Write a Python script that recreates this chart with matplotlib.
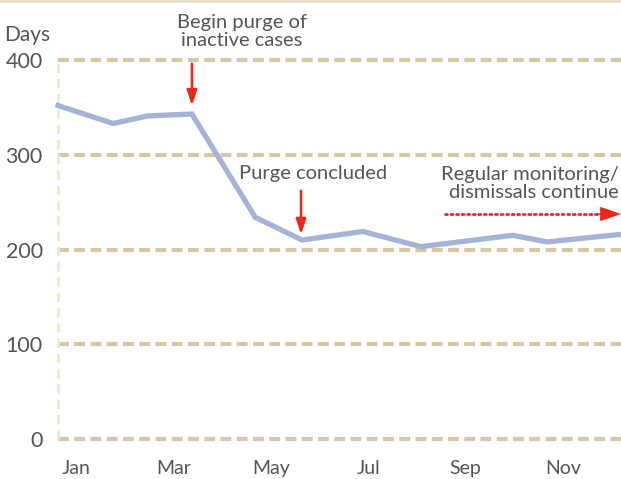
import matplotlib
matplotlib.use("Agg")
import matplotlib.pyplot as plt
from matplotlib.lines import Line2D

# Data (x in month units, Jan = 0)
month_labels = ["Jan", "Mar", "May", "Jul", "Sep", "Nov"]
month_ticks = [0, 2, 4, 6, 8, 10]
x_pos = [-0.37, 0.76, 1.48, 2.38, 3.68, 4.64, 5.89, 7.08, 8.97, 9.67, 11.19]
days = [352, 333, 341, 343, 234, 210, 219, 203, 215, 208, 216]
y_ticks = [0, 100, 200, 300, 400]

plt.rcParams['font.family'] = ['Lato', 'DejaVu Sans']

fig = plt.figure(figsize=(6.21, 4.79), dpi=100)
ax = fig.add_axes([58/621, 40/479, 563/621, 379/479])
ax.set_xlim(-0.37, 11.19)
ax.set_ylim(0, 400)

grid_col = "#d6c7a6"
for yv in y_ticks:
    ax.axhline(yv, color=grid_col, lw=3, dashes=(2.6, 1.3), zorder=1, clip_on=False)
ax.axvline(-0.37, color="#efe6d4", lw=2.2, dashes=(3, 2), zorder=1, clip_on=False)

ax.plot(x_pos, days, color="#a6b3d7", lw=3.8, solid_joinstyle='miter', zorder=3, clip_on=False)

for s in ax.spines.values():
    s.set_visible(False)
ax.set_yticks(y_ticks)
ax.set_yticklabels([str(v) for v in y_ticks], fontsize=15.5, color="#555555")
ax.set_xticks(month_ticks)
ax.set_xticklabels(month_labels, fontsize=14, color="#555555")
ax.tick_params(axis='both', length=0)
ax.tick_params(axis='y', pad=11)
ax.tick_params(axis='x', pad=15)

ax.text(-1.01, 416, "Days", fontsize=15, color="#555555", ha='center', va='bottom')

red = "#e8271e"
txtc = "#555555"
# Begin purge
ax.text(3.41, 430, "Begin purge of\ninactive cases", fontsize=14.5, color=txtc,
        ha='center', va='center', linespacing=1.12, clip_on=False)
ax.annotate("", xy=(2.38, 349), xytext=(2.38, 399),
            arrowprops=dict(arrowstyle="-|>,head_length=0.9,head_width=0.3", color=red, lw=1.8),
            annotation_clip=False)
# Purge concluded
ax.text(4.87, 280, "Purge concluded", fontsize=14.5, color=txtc, ha='center', va='center')
ax.annotate("", xy=(4.62, 213), xytext=(4.62, 265),
            arrowprops=dict(arrowstyle="-|>,head_length=0.9,head_width=0.3", color=red, lw=1.8))
# Regular monitoring
ax.text(11.14, 270, "Regular monitoring/\ndismissals continue", fontsize=14.5, color=txtc,
        ha='right', va='center', linespacing=1.05)
ax.plot([7.58, 10.72], [237.5, 237.5], color=red, lw=2.0, linestyle=(0, (0.7, 1.3)),
        dash_capstyle='round', zorder=4)
ax.annotate("", xy=(11.19, 237.5), xytext=(10.70, 237.5),
            arrowprops=dict(arrowstyle="-|>,head_length=1.3,head_width=0.45", color=red, lw=1.0,
                            shrinkA=0, shrinkB=0),
            annotation_clip=False)

fig.add_artist(Line2D([0, 1], [0.997, 0.997], transform=fig.transFigure, color="#e9dcc6", lw=2))

fig.savefig("out.png", dpi=100)
